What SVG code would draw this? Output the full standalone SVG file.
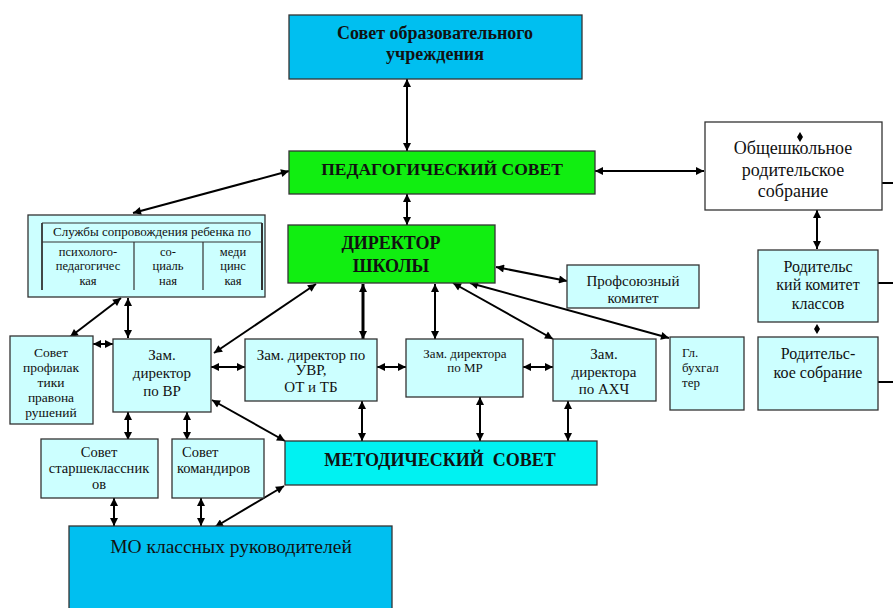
<svg xmlns="http://www.w3.org/2000/svg" width="893" height="608" viewBox="0 0 893 608" font-family="'Liberation Serif', 'Times New Roman', 'DejaVu Serif', serif">
<defs>
<marker id="ah" viewBox="0 0 10 10" refX="10" refY="5" markerUnits="userSpaceOnUse" markerWidth="10" markerHeight="8" orient="auto-start-reverse">
<path d="M0,0 L10,5 L0,10 z" fill="#000"/>
</marker>
</defs>
<style>
.box{stroke:#333;stroke-width:1.3}
.blue{fill:#00bff0}
.green{fill:#11ee11}
.light{fill:#ccffff}
.cyan{fill:#00f2f2}
.white{fill:#fff}
text{fill:#111;text-anchor:middle}
text.s{text-anchor:start}
.b{font-weight:bold}
.c line{stroke:#000;stroke-width:2;marker-start:url(#ah);marker-end:url(#ah)}
.c line.t{stroke-width:3}
.c line.p{marker-start:none;marker-end:none}
.tbl{stroke:#333;fill:none}
</style>
<rect width="893" height="608" fill="#fff"/>

<g id="connectors" class="c">
<line x1="407" y1="79" x2="407" y2="151"/>
<line x1="407" y1="194" x2="407" y2="225"/>
<line x1="289" y1="171" x2="133" y2="213"/>
<line x1="595" y1="171" x2="704" y2="171"/>
<line x1="817" y1="210" x2="817" y2="249"/>
<line class="p" x1="882" y1="183" x2="893" y2="183"/>
<line class="p" x1="878" y1="283" x2="893" y2="283"/>
<line class="p" x1="878" y1="382" x2="893" y2="382"/>
<line x1="121" y1="298" x2="70" y2="337"/>
<line x1="128" y1="298" x2="128" y2="338"/>
<line x1="93" y1="344" x2="113" y2="344"/>
<line x1="316" y1="284" x2="214" y2="353"/>
<line class="t" x1="363" y1="284" x2="363" y2="339"/>
<line x1="435" y1="284" x2="435" y2="339"/>
<line x1="453" y1="283" x2="553" y2="339"/>
<line x1="470" y1="283" x2="669" y2="338"/>
<line x1="496" y1="267" x2="567" y2="281"/>
<line x1="211" y1="367" x2="245" y2="367"/>
<line x1="377" y1="367" x2="406" y2="367"/>
<line x1="523" y1="367" x2="553" y2="367"/>
<line x1="128" y1="412" x2="128" y2="440"/>
<line x1="187" y1="412" x2="187" y2="440"/>
<line x1="212" y1="400" x2="285" y2="441"/>
<line x1="362" y1="401" x2="362" y2="441"/>
<line x1="480" y1="397" x2="480" y2="441"/>
<line x1="568" y1="401" x2="568" y2="441"/>
<line x1="114" y1="498" x2="114" y2="526"/>
<line x1="201" y1="498" x2="201" y2="526"/>
<line x1="284" y1="486" x2="215" y2="527"/>
</g>

<g id="sovet-ou">
<rect class="box blue" x="289" y="15" width="293" height="64"/>
<text class="b" x="435" y="39" font-size="18">Совет образовательного</text>
<text class="b" x="435" y="60" font-size="18">учреждения</text>
</g>

<g id="ped-sovet">
<rect class="box green" x="289" y="151" width="306" height="43"/>
<text class="b" x="442" y="175" font-size="17.5">ПЕДАГОГИЧЕСКИЙ СОВЕТ</text>
</g>

<g id="direktor">
<rect class="box green" x="288" y="225" width="207" height="58"/>
<text class="b" x="391" y="249" font-size="18">ДИРЕКТОР</text>
<text class="b" x="391" y="272" font-size="18">ШКОЛЫ</text>
</g>

<g id="obsh-rod-sobr">
<rect class="box white" x="705" y="122" width="177" height="88"/>
<path d="M800,132 L803,137 L800,142 L797,137 z" fill="#000"/>
<text x="793" y="154" font-size="18">Общешкольное</text>
<text x="793" y="176" font-size="18">родительское</text>
<text x="793" y="197" font-size="18">собрание</text>
</g>

<g id="rod-komitet">
<rect class="box light" x="758" y="250" width="120" height="72"/>
<text x="818" y="272" font-size="16">Родительс</text>
<text x="818" y="290" font-size="16">кий комитет</text>
<text x="818" y="309" font-size="16">классов</text>
</g>

<path d="M817,324 L820,329 L817,334 L814,329 z" fill="#000"/>

<g id="rod-sobranie">
<rect class="box light" x="758" y="337" width="120" height="73"/>
<text x="818" y="359" font-size="16">Родительс-</text>
<text x="818" y="378" font-size="16">кое собрание</text>
</g>

<g id="sluzhby">
<rect class="box light" x="28" y="215" width="237" height="82"/>
<line class="tbl" x1="42" y1="223" x2="262" y2="223" stroke-width="1"/>
<line class="tbl" x1="42" y1="242" x2="262" y2="242" stroke-width="1.2"/>
<line class="tbl" x1="42" y1="223" x2="42" y2="290" stroke-width="1.8"/>
<line class="tbl" x1="262" y1="223" x2="262" y2="290" stroke-width="2"/>
<line class="tbl" x1="134" y1="242" x2="134" y2="290" stroke-width="1.2"/>
<line class="tbl" x1="203" y1="242" x2="203" y2="290" stroke-width="1.2"/>
<text x="152" y="236" font-size="13">Службы сопровождения ребенка по</text>
<text x="88" y="256" font-size="12.5">психолого-</text>
<text x="88" y="270" font-size="12.5">педагогичес</text>
<text x="88" y="285" font-size="12.5">кая</text>
<text x="168" y="256" font-size="12.5">со-</text>
<text x="168" y="270" font-size="12.5">циаль</text>
<text x="168" y="285" font-size="12.5">ная</text>
<text x="233" y="256" font-size="12.5">меди</text>
<text x="233" y="270" font-size="12.5">цинс</text>
<text x="233" y="285" font-size="12.5">кая</text>
</g>

<g id="profsoyuz">
<rect class="box light" x="567" y="265" width="132" height="43"/>
<text x="633" y="286" font-size="15">Профсоюзный</text>
<text x="633" y="303" font-size="15">комитет</text>
</g>

<g id="sovet-profilaktiki">
<rect class="box light" x="10" y="336" width="83" height="88"/>
<text x="51" y="357" font-size="13.5">Совет</text>
<text x="51" y="372" font-size="13.5">профилак</text>
<text x="51" y="387" font-size="13.5">тики</text>
<text x="51" y="402" font-size="13.5">правона</text>
<text x="51" y="417" font-size="13.5">рушений</text>
</g>

<g id="zam-vr">
<rect class="box light" x="113" y="339" width="98" height="73"/>
<text x="162" y="360" font-size="15">Зам.</text>
<text x="162" y="378" font-size="15">директор</text>
<text x="162" y="396" font-size="15">по ВР</text>
</g>

<g id="zam-uvr">
<rect class="box light" x="245" y="339" width="132" height="62"/>
<text x="311" y="360" font-size="15">Зам. директор по</text>
<text x="311" y="375" font-size="15">УВР,</text>
<text x="311" y="392" font-size="15">ОТ и ТБ</text>
</g>

<g id="zam-mr">
<rect class="box light" x="406" y="339" width="117" height="58"/>
<text x="465" y="358" font-size="13">Зам. директора</text>
<text x="465" y="372" font-size="13">по МР</text>
</g>

<g id="zam-ahch">
<rect class="box light" x="553" y="339" width="103" height="62"/>
<text x="604" y="359" font-size="15">Зам.</text>
<text x="604" y="377" font-size="15">директора</text>
<text x="604" y="394" font-size="15">по АХЧ</text>
</g>

<g id="gl-buh">
<rect class="box light" x="670" y="337" width="74" height="73"/>
<text class="s" x="682" y="357" font-size="13">Гл.</text>
<text class="s" x="682" y="372" font-size="13">бухгал</text>
<text class="s" x="682" y="387" font-size="13">тер</text>
</g>

<g id="metod-sovet">
<rect class="box cyan" x="285" y="441" width="312" height="44"/>
<text class="b" x="440" y="466" font-size="18" xml:space="preserve">МЕТОДИЧЕСКИЙ  СОВЕТ</text>
</g>

<g id="sovet-starsheklassnikov">
<rect class="box light" x="41" y="439" width="117" height="59"/>
<text x="99" y="457" font-size="14.5">Совет</text>
<text x="99" y="473" font-size="14.5">старшеклассник</text>
<text x="99" y="489" font-size="14.5">ов</text>
</g>

<g id="sovet-komandirov">
<rect class="box light" x="172" y="439" width="92" height="59"/>
<text class="s" x="182" y="457" font-size="14.5">Совет</text>
<text class="s" x="177" y="473" font-size="14.5">командиров</text>
</g>

<g id="mo-klassnyh">
<rect class="box blue" x="69" y="526" width="323" height="90"/>
<text x="231" y="553" font-size="19.5">МО классных руководителей</text>
</g>
</svg>
